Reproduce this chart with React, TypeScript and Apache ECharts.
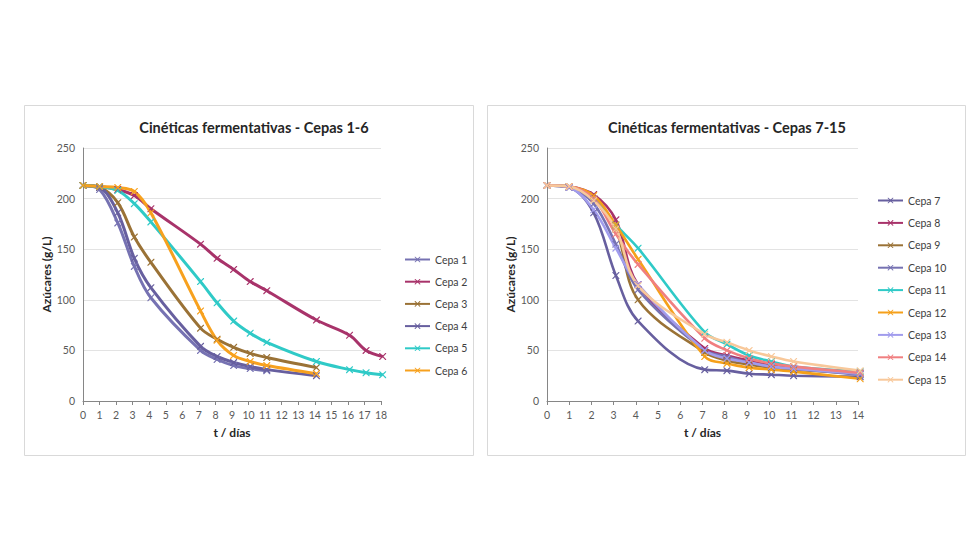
import React, { useEffect, useRef } from "react";
import * as echarts from "echarts";

// Sampling days (markers sit slightly right of the integer ticks in the original)
const daysLeft = [0, 1, 2.1, 3.1, 4.1, 7.1, 8.1, 9.1, 10.1, 11.1, 14.1, 16.1, 17.1, 18.1];
const daysRight = [0, 1, 2.1, 3.1, 4.1, 7.1, 8.1, 9.1, 10.1, 11.1, 14.1];

// Cepas 1-6 (g/L)
const cepa1 = [213, 209, 176, 133, 102, 50, 41, 35, 32, 30];
const cepa2 = [213, 212, 209, 203, 190, 155, 141, 130, 118, 109, 80, 65, 50, 44];
const cepa3 = [213, 211, 196, 162, 137, 72, 61, 53, 47, 43, 33];
const cepa4 = [213, 211, 186, 141, 112, 54, 44, 38, 34, 31, 25];
const cepa5 = [213, 212, 208, 195, 177, 118, 97, 79, 67, 58, 39, 31, 28, 26];
const cepa6 = [213, 212, 211, 207, 186, 89, 60, 45, 39, 35, 27];

// Cepas 7-15 (g/L)
const cepa7 = [213, 211, 186, 124, 79, 31, 30, 27, 26, 25, 24];
const cepa8 = [213, 212, 204, 179, 115, 52, 45, 40, 36, 33, 27];
const cepa9 = [213, 211, 200, 170, 100, 48, 40, 36, 33, 31, 27];
const cepa10 = [213, 211, 195, 155, 110, 50, 44, 38, 34, 32, 26];
const cepa11 = [213, 212, 200, 174, 151, 68, 56, 45, 39, 34, 29];
const cepa12 = [213, 212, 203, 174, 140, 44, 37, 33, 31, 29, 22];
const cepa13 = [213, 211, 189, 151, 115, 50, 42, 38, 34, 32, 27];
const cepa14 = [213, 212, 200, 165, 135, 62, 50, 42, 37, 34, 28];
const cepa15 = [213, 212, 198, 170, 114, 66, 58, 50, 44, 39, 30];

const leftNames = ["Cepa 1", "Cepa 2", "Cepa 3", "Cepa 4", "Cepa 5", "Cepa 6"];
const leftValues = [cepa1, cepa2, cepa3, cepa4, cepa5, cepa6];
const leftColors = ["#7672b2", "#a8336a", "#9a7236", "#675f9f", "#2fcac7", "#f7a11e"];

const rightNames = ["Cepa 7", "Cepa 8", "Cepa 9", "Cepa 10", "Cepa 11", "Cepa 12", "Cepa 13", "Cepa 14", "Cepa 15"];
const rightValues = [cepa7, cepa8, cepa9, cepa10, cepa11, cepa12, cepa13, cepa14, cepa15];
const rightColors = ["#675f9f", "#a8336a", "#9a7236", "#7672b2", "#2fcac7", "#f5a01a", "#a19ced", "#f07f80", "#f8c89a"];

const titleLeft = "Cinéticas fermentativas - Cepas 1-6";
const titleRight = "Cinéticas fermentativas - Cepas 7-15";
const yName = "Azúcares (g/L)";
const xName = "t / días";

const X_SYMBOL =
  "path://M0,0 L1.2,0 L5,3.8 L8.8,0 L10,0 L10,1.2 L6.2,5 L10,8.8 L10,10 L8.8,10 L5,6.2 L1.2,10 L0,10 L0,8.8 L3.8,5 L0,1.2 Z";

const FONT = "Lato, 'Open Sans', sans-serif";

export default function App() {
  const ref = useRef<HTMLDivElement>(null);

  useEffect(() => {
    if (!ref.current) return;
    const chart = echarts.init(ref.current, null, { renderer: "svg" });

    const makeSeries = (
      names: string[],
      values: number[][],
      colors: string[],
      days: number[],
      idx: number,
      width: number
    ) =>
      names.map((name, i) => ({
        name,
        type: "line",
        xAxisIndex: idx,
        yAxisIndex: idx,
        data: values[i].map((v, j) => [days[j], v]),
        smooth: 0.35,
        symbol: X_SYMBOL,
        symbolSize: 7,
        showSymbol: true,
        clip: false,
        lineStyle: { width, color: colors[i] },
        itemStyle: { color: colors[i] },
        emphasis: { disabled: true },
      }));

    const axisLabel = { color: "#595959", fontSize: 10.5, fontFamily: FONT };
    const nameStyle = { color: "#262626", fontSize: 12, fontWeight: "bold" as const, fontFamily: FONT };

    const xAxisBase = (max: number, idx: number) => ({
      type: "value",
      gridIndex: idx,
      min: 0,
      max,
      interval: 1,
      name: xName,
      nameLocation: "middle",
      nameGap: 25,
      nameTextStyle: nameStyle,
      axisLine: { show: true, lineStyle: { color: "#868686", width: 1 } },
      axisTick: { show: true, length: 4, lineStyle: { color: "#868686" } },
      axisLabel: { ...axisLabel, margin: 8 },
      splitLine: { show: false },
    });

    const yAxisBase = (idx: number) => ({
      type: "value",
      gridIndex: idx,
      min: 0,
      max: 250,
      interval: 50,
      name: yName,
      nameLocation: "middle",
      nameGap: 29,
      nameTextStyle: nameStyle,
      axisLine: { show: true, lineStyle: { color: "#868686", width: 1 } },
      axisTick: { show: false },
      axisLabel: { ...axisLabel, margin: 8 },
      splitLine: { show: true, lineStyle: { color: "#e3e3e3", width: 1 } },
    });

    const legendBase = (names: string[], left: number, top: number, gap: number) => ({
      orient: "vertical",
      left,
      top,
      padding: 0,
      data: names,
      itemWidth: 25,
      itemHeight: 7,
      itemGap: gap,
      selectedMode: false,
      textStyle: { color: "#404040", fontSize: 10.5, fontFamily: FONT, lineHeight: 12 },
    });

    chart.setOption({
      animation: false,
      backgroundColor: "#ffffff",
      title: [
        {
          text: titleLeft,
          left: 249,
          top: 115,
          textAlign: "center",
          textStyle: { color: "#262626", fontSize: 14.5, fontWeight: "bold", fontFamily: FONT },
        },
        {
          text: titleRight,
          left: 722,
          top: 115,
          textAlign: "center",
          textStyle: { color: "#262626", fontSize: 14.5, fontWeight: "bold", fontFamily: FONT },
        },
      ],
      graphic: [
        {
          type: "rect",
          shape: { x: 24.5, y: 105.5, width: 449, height: 350 },
          style: { fill: "none", stroke: "#d9d9d9", lineWidth: 1 },
          silent: true,
        },
        {
          type: "rect",
          shape: { x: 487.5, y: 105.5, width: 478, height: 350 },
          style: { fill: "none", stroke: "#d9d9d9", lineWidth: 1 },
          silent: true,
        },
      ],
      grid: [
        { left: 83, top: 148, width: 298, height: 253 },
        { left: 547, top: 148, width: 311, height: 253 },
      ],
      xAxis: [xAxisBase(18, 0), xAxisBase(14, 1)],
      yAxis: [yAxisBase(0), yAxisBase(1)],
      legend: [
        legendBase(leftNames, 404, 253.5, 10.2),
        legendBase(rightNames, 877, 194.5, 10.4),
      ],
      series: [
        ...makeSeries(leftNames, leftValues, leftColors, daysLeft, 0, 3),
        ...makeSeries(rightNames, rightValues, rightColors, daysRight, 1, 2.6),
      ],
    });

    return () => chart.dispose();
  }, []);

  return (
    <div
      ref={ref}
      style={{ position: "fixed", left: 0, top: 0, width: 980, height: 560, background: "#fff" }}
    />
  );
}
